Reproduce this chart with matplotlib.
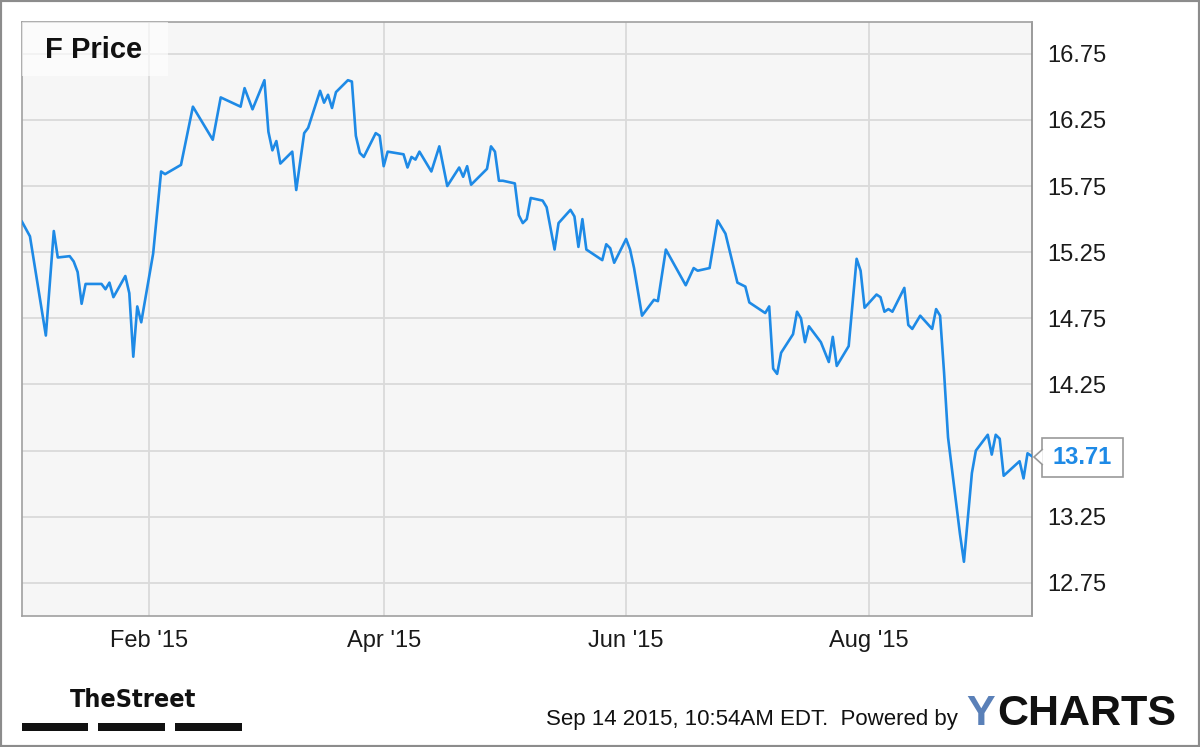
import pandas as pd
import matplotlib
matplotlib.use('Agg')
import matplotlib.pyplot as plt
from matplotlib.patches import Rectangle, Polygon

# closing prices (vertices of the line)
dates = ['2014-12-31', '2015-01-02', '2015-01-06', '2015-01-08', '2015-01-09',
         '2015-01-12', '2015-01-13', '2015-01-14', '2015-01-15', '2015-01-16',
         '2015-01-20', '2015-01-21', '2015-01-22', '2015-01-23', '2015-01-26',
         '2015-01-27', '2015-01-28', '2015-01-29', '2015-01-30', '2015-02-02',
         '2015-02-04', '2015-02-05', '2015-02-09', '2015-02-12', '2015-02-17',
         '2015-02-19', '2015-02-24', '2015-02-25', '2015-02-27', '2015-03-02',
         '2015-03-03', '2015-03-04', '2015-03-05', '2015-03-06', '2015-03-09',
         '2015-03-10', '2015-03-12', '2015-03-13', '2015-03-16', '2015-03-17',
         '2015-03-18', '2015-03-19', '2015-03-20', '2015-03-23', '2015-03-24',
         '2015-03-25', '2015-03-26', '2015-03-27', '2015-03-30', '2015-03-31',
         '2015-04-01', '2015-04-02', '2015-04-06', '2015-04-07', '2015-04-08',
         '2015-04-09', '2015-04-10', '2015-04-13', '2015-04-15', '2015-04-17',
         '2015-04-20', '2015-04-21', '2015-04-22', '2015-04-23', '2015-04-27',
         '2015-04-28', '2015-04-29', '2015-04-30', '2015-05-01', '2015-05-04',
         '2015-05-05', '2015-05-06', '2015-05-07', '2015-05-08', '2015-05-11',
         '2015-05-12', '2015-05-14', '2015-05-15', '2015-05-18', '2015-05-19',
         '2015-05-20', '2015-05-21', '2015-05-22', '2015-05-26', '2015-05-27',
         '2015-05-28', '2015-05-29', '2015-06-01', '2015-06-02', '2015-06-03',
         '2015-06-05', '2015-06-08', '2015-06-09', '2015-06-11', '2015-06-16',
         '2015-06-18', '2015-06-19', '2015-06-22', '2015-06-24', '2015-06-26',
         '2015-06-29', '2015-07-01', '2015-07-02', '2015-07-06', '2015-07-07',
         '2015-07-08', '2015-07-09', '2015-07-10', '2015-07-13', '2015-07-14',
         '2015-07-15', '2015-07-16', '2015-07-17', '2015-07-20', '2015-07-22',
         '2015-07-23', '2015-07-24', '2015-07-27', '2015-07-29', '2015-07-30',
         '2015-07-31', '2015-08-03', '2015-08-04', '2015-08-05', '2015-08-06',
         '2015-08-07', '2015-08-10', '2015-08-11', '2015-08-12', '2015-08-14',
         '2015-08-17', '2015-08-18', '2015-08-19', '2015-08-20', '2015-08-21',
         '2015-08-24', '2015-08-25', '2015-08-27', '2015-08-28', '2015-08-31',
         '2015-09-01', '2015-09-02', '2015-09-03', '2015-09-04', '2015-09-08',
         '2015-09-09', '2015-09-10', '2015-09-11']

prices = [15.48, 15.37, 14.62, 15.41, 15.21,
          15.22, 15.18, 15.10, 14.86, 15.01,
          15.01, 14.97, 15.02, 14.91, 15.07,
          14.94, 14.46, 14.84, 14.72, 15.24,
          15.86, 15.84, 15.91, 16.35, 16.10,
          16.42, 16.35, 16.49, 16.33, 16.55,
          16.16, 16.02, 16.09, 15.92, 16.01,
          15.72, 16.15, 16.19, 16.47, 16.38,
          16.44, 16.34, 16.46, 16.55, 16.54,
          16.13, 16.00, 15.97, 16.15, 16.13,
          15.90, 16.01, 15.99, 15.89, 15.97,
          15.95, 16.01, 15.86, 16.05, 15.75,
          15.89, 15.82, 15.90, 15.76, 15.88,
          16.05, 16.01, 15.79, 15.79, 15.77,
          15.53, 15.47, 15.50, 15.66, 15.64,
          15.59, 15.27, 15.47, 15.57, 15.52,
          15.29, 15.50, 15.27, 15.19, 15.31,
          15.28, 15.17, 15.35, 15.27, 15.13,
          14.77, 14.89, 14.88, 15.27, 15.00,
          15.13, 15.11, 15.13, 15.49, 15.39,
          15.02, 14.99, 14.87, 14.79, 14.84,
          14.37, 14.33, 14.49, 14.63, 14.80,
          14.75, 14.57, 14.69, 14.57, 14.42,
          14.61, 14.39, 14.54, 15.20, 15.11,
          14.83, 14.93, 14.91, 14.80, 14.82,
          14.80, 14.98, 14.70, 14.67, 14.77,
          14.67, 14.82, 14.77, 14.34, 13.85,
          13.12, 12.91, 13.58, 13.75, 13.87,
          13.72, 13.87, 13.84, 13.56, 13.67,
          13.54, 13.73, 13.71]

y_ticks = [12.75, 13.25, 13.75, 14.25, 14.75, 15.25, 15.75, 16.25, 16.75]
y_labels = ['12.75', '13.25', '', '14.25', '14.75', '15.25', '15.75', '16.25', '16.75']
month_ticks = ['2015-02-01', '2015-04-01', '2015-06-01', '2015-08-01']
month_labels = ["Feb '15", "Apr '15", "Jun '15", "Aug '15"]
last_price = 13.71

plt.rcParams['font.family'] = ['Liberation Sans', 'DejaVu Sans']

W, H = 1200, 747
fig = plt.figure(figsize=(W / 100, H / 100), dpi=100)
fig.patch.set_facecolor('white')


def fx(px):
    return px / W


def fy(py):
    return 1 - py / H


ax = fig.add_axes([fx(22), fy(616), fx(1031.5) - fx(22), fy(22) - fy(616)])
ax.set_facecolor('#f6f6f6')

d = pd.to_datetime(dates)
ax.plot(d, prices, color='#1e8ae6', lw=1.9, solid_joinstyle='round', zorder=3)

ax.set_xlim(pd.Timestamp('2014-12-31'), pd.Timestamp('2015-09-11'))
ax.set_ylim(12.50, 16.99)

ax.set_xticks(pd.to_datetime(month_ticks))
ax.set_xticklabels(month_labels)
ax.set_yticks(y_ticks)
ax.set_yticklabels(y_labels)
ax.yaxis.tick_right()
ax.tick_params(axis='y', length=0, pad=11, labelsize=17, labelcolor='#1a1a1a')
ax.tick_params(axis='x', length=0, pad=10, labelsize=17, labelcolor='#1a1a1a')
ax.grid(True, color='#dadada', lw=1.3)
ax.set_axisbelow(True)
for s in ax.spines.values():
    s.set_color('#a0a0a0')
    s.set_linewidth(1.2)
ax.spines['right'].set_color('#8a8a8a')

# title box
fig.patches.append(Rectangle((fx(22), fy(76)), fx(168) - fx(22), fy(22) - fy(76),
                             transform=fig.transFigure, fc='white', alpha=0.65,
                             ec='none', zorder=5))
fig.text(fx(45), fy(50), 'F Price', fontsize=21, fontweight='bold',
         color='#111111', va='center', ha='left', zorder=6)

# last price flag
fig.patches.append(Rectangle((fx(1042), fy(477)), fx(1123) - fx(1042), fy(438) - fy(477),
                             transform=fig.transFigure, fc='white', ec='#9a9a9a',
                             lw=1.2, zorder=5))
fig.patches.append(Polygon([(fx(1042.8), fy(449)), (fx(1034), fy(457)), (fx(1042.8), fy(465))],
                           closed=False, transform=fig.transFigure, fc='white',
                           ec='#9a9a9a', lw=1.2, zorder=6))
fig.text(fx(1082.5), fy(458), '{:.2f}'.format(last_price), fontsize=17, fontweight='bold',
         color='#1e8ae6', va='center', ha='center', zorder=7)

# footer
fig.text(fx(133), fy(700), 'TheStreet', fontsize=18, fontweight='bold',
         family=['Liberation Sans Narrow', 'DejaVu Sans'], fontstretch='condensed',
         color='#111111', ha='center', va='center')
for x0, x1 in [(22, 88), (98, 165), (175, 242)]:
    fig.patches.append(Rectangle((fx(x0), fy(731)), fx(x1) - fx(x0), fy(723) - fy(731),
                                 transform=fig.transFigure, fc='#111111', ec='none'))
fig.text(fx(958), fy(719), 'Sep 14 2015, 10:54AM EDT.  Powered by', fontsize=16,
         color='#111111', ha='right', va='center')
fig.text(fx(966), fy(714), 'Y', fontsize=31, fontweight='bold', color='#5a80b8',
         ha='left', va='center')
fig.text(fx(997), fy(714), 'CHARTS', fontsize=31, fontweight='bold', color='#111111',
         ha='left', va='center')

# outer frame
fig.patches.append(Rectangle((0, 0), 1, 1, transform=fig.transFigure, fill=False,
                             ec='#8c8c8c', lw=3))

fig.savefig('out.png', dpi=100)
